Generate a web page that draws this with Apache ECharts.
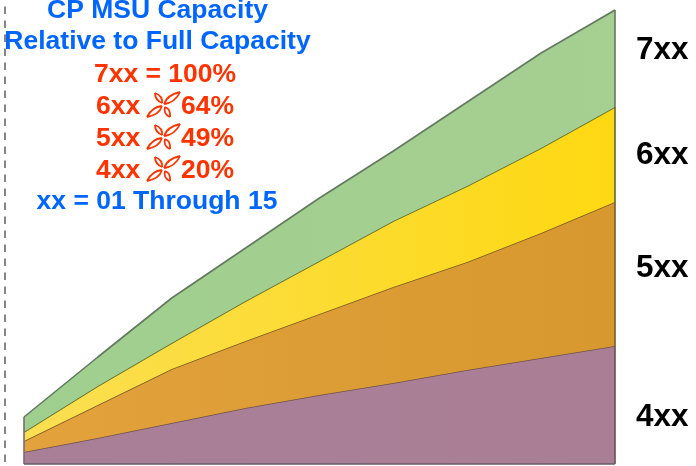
<!DOCTYPE html>
<html>
<head>
<meta charset="utf-8">
<style>html,body{margin:0;padding:0;background:#fff}#chart{width:696px;height:466px}</style>
<script src="https://cdn.jsdelivr.net/npm/echarts@6/dist/echarts.min.js"></script>
</head>
<body>
<div id="chart"></div>
<script>
// Engine sizes along the lineup, stacked from the lowest tier upward.
const samples = ['01', '03', '05', '07', '09', '11', '12', '14', '15'];
const tier4xx = [12, 26, 41, 56, 69, 81, 94, 106, 118];
const tier5xx = [11, 33, 54, 67, 81, 96, 108, 125, 144];
const tier6xx = [9, 19, 26, 40, 53, 66, 76, 85, 95];
const tier7xx = [15, 29, 45, 53, 63, 70, 84, 95, 97];

const tierNames = ['4xx', '5xx', '6xx', '7xx'];
const tierValues = [tier4xx, tier5xx, tier6xx, tier7xx];
const tierFills = [
  ['#a97f98', '#aa7f96'],
  ['#e3a23c', '#d7982f'],
  ['#fadf52', '#fed812'],
  ['#9fcf8f', '#a6cf92']
];
const tierEdges = ['#6d4f4a', '#7d5a22', '#5f6a2c', '#62795f'];

const titleLines = ['CP MSU Capacity', 'Relative to Full Capacity'];
const footLine = 'xx = 01 Through 15';
const fullLine = '7xx = 100%';
const ratioNames = ['6xx', '5xx', '4xx'];
const ratioValues = ['64%', '49%', '20%'];

const BLUE = '#0066ff';
const RED = '#ff3300';
const FONT = '"Liberation Sans", Arial, sans-serif';

const chart = echarts.init(document.getElementById('chart'));

const series = tierNames.map((name, i) => ({
  name,
  type: 'line',
  stack: 'capacity',
  data: tierValues[i],
  symbol: 'none',
  clip: false,
  z: 2 + i,
  lineStyle: { color: tierEdges[i], width: 1.6 },
  areaStyle: {
    opacity: 1,
    color: new echarts.graphic.LinearGradient(0, 0, 1, 0, [
      { offset: 0, color: tierFills[i][0] },
      { offset: 1, color: tierFills[i][1] }
    ])
  }
}));

// Closing edges at both ends of each band, and the base line.
const last = samples.length - 1;
const edgeLine = (data, color) => ({
  type: 'line', data, symbol: 'none', clip: false, z: 8,
  lineStyle: { color, width: 1.6 }, silent: true
});
[0, last].forEach(col => {
  let below = 0;
  tierValues.forEach((values, i) => {
    const above = below + values[col];
    series.push(edgeLine([[col, below], [col, above]], col === 0 ? '#7a6a78' : tierEdges[i]));
    below = above;
  });
});
series.push(edgeLine([[0, 0], [last, 0]], '#6a5866'));

const graphics = [{
  type: 'line',
  shape: { x1: 5, y1: 6.5, x2: 5, y2: 466 },
  style: { stroke: '#858585', lineWidth: 2, lineDash: [7.5, 6.5] }
}];

// Text is placed by its baseline.
const label = (text, x, base, size, color, align) => ({
  type: 'text', x, y: base - size * 0.25, z: 20,
  style: {
    text, fill: color, align: align || 'center', verticalAlign: 'middle',
    font: 'bold ' + size + 'px ' + FONT
  }
});

// Four-leaf ornament used as the "approximately" sign in the ratio rows.
const leaves = [
  [[1, -1], [17, -13], [4, -10], [12, -2]],
  [[-1, 1], [-16, 12], [-4, 10], [-11, 2]],
  [[-1, -2], [-8, -12], [-8, -5], [0, -9]],
  [[2, 2], [7, 12], [8, 4], [0, 9]]
];
const ornament = (cx, cy) => leaves.flatMap(([a, b, c1, c2]) => [c1, c2].map(c => ({
  type: 'bezierCurve', z: 20,
  shape: {
    x1: cx + a[0], y1: cy + a[1], x2: cx + b[0], y2: cy + b[1],
    cpx1: cx + c[0], cpy1: cy + c[1]
  },
  style: { stroke: RED, lineWidth: 1.8, fill: null }
})));

graphics.push(label(titleLines[0], 157.5, 17, 26.5, BLUE));
graphics.push(label(titleLines[1], 157.5, 48, 26.5, BLUE));
graphics.push(label(fullLine, 165, 81, 26.5, RED));
ratioNames.forEach((name, i) => {
  const base = 113 + i * 32;
  graphics.push(label(name, 96, base, 26.5, RED, 'left'));
  graphics.push(label(ratioValues[i], 181, base, 26.5, RED, 'left'));
  graphics.push(...ornament(163, base - 8));
});
graphics.push(label(footLine, 157, 208, 26.5, BLUE));

tierNames.slice().reverse().forEach((name, i) => {
  graphics.push(label(name, 636, [58, 163, 276, 425][i], 31.5, '#000000', 'left'));
});

chart.setOption({
  animation: false,
  backgroundColor: '#ffffff',
  grid: { left: 24, right: 81, top: 4, bottom: 2 },
  xAxis: { type: 'category', data: samples, boundaryGap: false, show: false },
  yAxis: { type: 'value', min: 0, max: 460, show: false },
  series,
  graphic: graphics
});
</script>
</body>
</html>
